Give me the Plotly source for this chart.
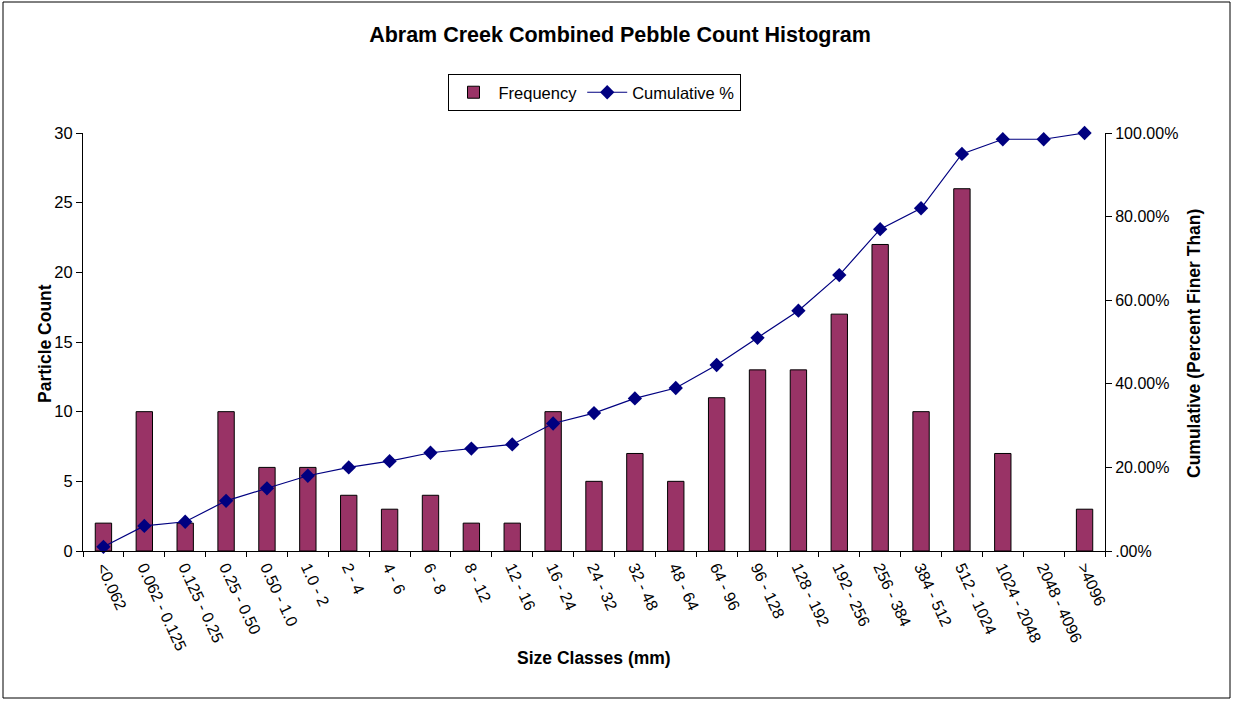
import plotly.graph_objects as go

size_classes = ["<0.062", "0.062 - 0.125", "0.125 - 0.25", "0.25 - 0.50", "0.50 - 1.0",
                "1.0 - 2", "2 - 4", "4 - 6", "6 - 8", "8 - 12", "12 - 16", "16 - 24",
                "24 - 32", "32 - 48", "48 - 64", "64 - 96", "96 - 128", "128 - 192",
                "192 - 256", "256 - 384", "384 - 512", "512 - 1024", "1024 - 2048",
                "2048 - 4096", ">4096"]
frequency = [2, 10, 2, 10, 6, 6, 4, 3, 4, 2, 2, 10, 5, 7, 5, 11, 13, 13, 17, 22, 10, 26, 7, 0, 3]
cumulative_pct = [1, 6, 7, 12, 15, 18, 20, 21.5, 23.5, 24.5, 25.5, 30.5, 33, 36.5, 39,
                  44.5, 51, 57.5, 66, 77, 82, 95, 98.5, 98.5, 100]
pct_ticks = [0, 20, 40, 60, 80, 100]
pct_labels = [".00%", "20.00%", "40.00%", "60.00%", "80.00%", "100.00%"]

font = "Liberation Sans, Arial, sans-serif"

# empty classes get no outline (excel draws nothing for a zero bar)
outline_w = [1 if f > 0 else 0 for f in frequency]

fig = go.Figure()
fig.add_trace(go.Bar(
    x=size_classes, y=frequency, name="Frequency",
    marker=dict(color="#993366", line=dict(color="black", width=outline_w)),
    width=0.4,
))
fig.add_trace(go.Scatter(
    x=size_classes, y=cumulative_pct, name="Cumulative %", yaxis="y2",
    mode="lines+markers",
    line=dict(color="#000080", width=1.2),
    marker=dict(symbol="diamond", size=11, color="#000080"),
    cliponaxis=False,
))

# plot area in pixels: x 83..1105, y 133..551
W, H = 1233, 702
L, R, T, B = 83, 128, 133, 151
pw, ph = W - L - R, H - T - B


def px(x):
    return (x - L) / pw


def py(y):
    return (H - B - y) / ph


fig.update_layout(
    width=W, height=H,
    margin=dict(l=L, r=R, t=T, b=B, autoexpand=False),
    paper_bgcolor="white", plot_bgcolor="white",
    font=dict(family=font, size=16, color="black"),
    title=dict(text="<b>Abram Creek Combined Pebble Count Histogram</b>",
               x=620 / W, xanchor="center", y=1 - 34 / H, yanchor="middle",
               font=dict(size=21.5)),
    showlegend=True,
    legend=dict(orientation="h", x=0.5, xanchor="center",
                y=py(74), yanchor="top",
                bordercolor="black", borderwidth=1, bgcolor="white",
                font=dict(size=16.5), itemwidth=40, tracegroupgap=0),
    xaxis=dict(
        type="category", range=[-0.5, len(size_classes) - 0.5],
        showline=True, linecolor="black", linewidth=1,
        ticks="outside", tickson="boundaries", ticklen=5, tickcolor="black",
        tickangle=65, showgrid=False, tickfont=dict(size=16), automargin=False,
    ),
    yaxis=dict(
        range=[0, 30], dtick=5, showline=True, linecolor="black", linewidth=1,
        ticks="outside", ticklen=6, tickcolor="black", showgrid=False, zeroline=False,
        tickfont=dict(size=16.5), automargin=False,
    ),
    yaxis2=dict(
        overlaying="y", side="right", range=[0, 100],
        tickvals=pct_ticks, ticktext=pct_labels,
        showline=True, linecolor="black", linewidth=1,
        ticks="outside", ticklen=6, tickcolor="black", showgrid=False, zeroline=False,
        tickfont=dict(size=16), automargin=False,
    ),
    annotations=[
        dict(text="<b>Size Classes (mm)</b>", xref="paper", yref="paper",
             x=px(594), y=py(670), showarrow=False, font=dict(size=17.5)),
        dict(text="<b>Particle Count</b>", xref="paper", yref="paper",
             x=px(33), y=py(344), textangle=-90, showarrow=False, font=dict(size=17.5)),
        dict(text="<b>Cumulative (Percent Finer Than)</b>", xref="paper", yref="paper",
             x=px(1206), y=py(344), textangle=-90, showarrow=False, font=dict(size=17.5)),
    ],
    shapes=[dict(type="rect", xref="paper", yref="paper",
                 x0=px(3), x1=px(1230), y0=py(698), y1=py(2),
                 line=dict(color="black", width=1), layer="below")],
)

# drop the browser's default body margin so the figure sits at the page corner
fig.write_html("out.html", config={"displayModeBar": False},
               post_script="document.body.style.margin='0';")
